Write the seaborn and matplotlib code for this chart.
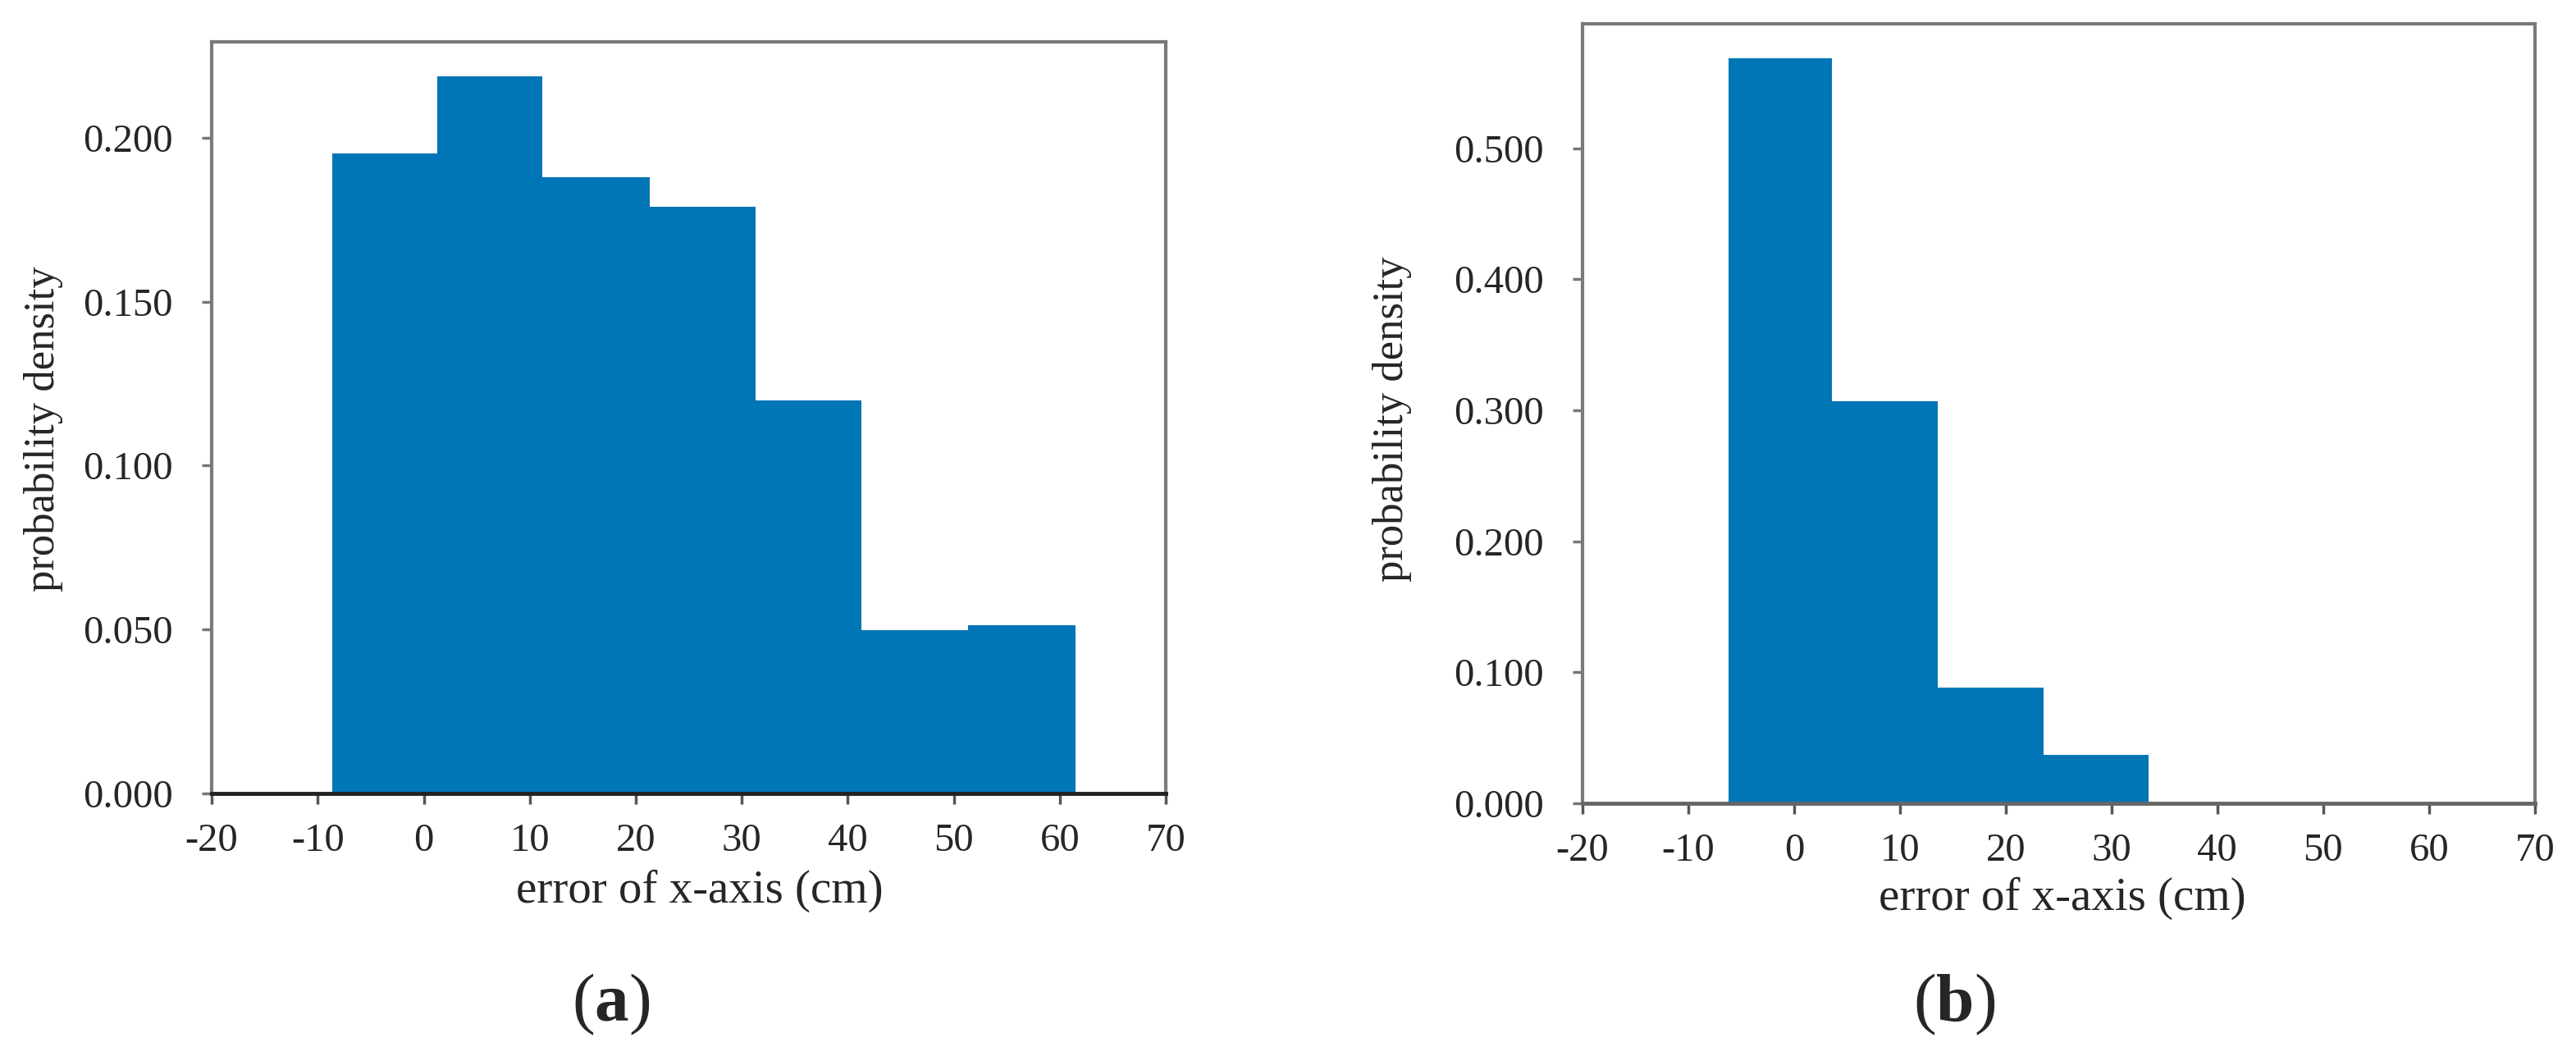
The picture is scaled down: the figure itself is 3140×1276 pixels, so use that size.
import numpy as np
import pandas as pd
import matplotlib
matplotlib.use("Agg")
import matplotlib.pyplot as plt
import seaborn as sns

# bin edges and densities
edges_a = [-8.6, 1.3, 11.2, 21.3, 31.3, 41.3, 51.3, 61.5]
density_a = [0.1953, 0.2187, 0.188, 0.179, 0.120, 0.0497, 0.0512]

edges_b = [-6.2, 3.6, 13.6, 23.6, 33.5]
density_b = [0.5685, 0.307, 0.088, 0.037]

x_ticks = [-20, -10, 0, 10, 20, 30, 40, 50, 60, 70]
y_ticks_a = [0.0, 0.05, 0.10, 0.15, 0.20]
y_ticks_b = [0.0, 0.1, 0.2, 0.3, 0.4, 0.5]

bar_color = "#0076b6"

sns.set_style("white")
plt.rcParams["font.family"] = ["Liberation Serif", "DejaVu Serif"]
plt.rcParams["mathtext.fontset"] = "custom"
plt.rcParams["mathtext.rm"] = "Liberation Serif"
plt.rcParams["mathtext.bf"] = "Liberation Serif:bold"


def make_df(edges, dens):
    mids = [(edges[i] + edges[i + 1]) / 2 for i in range(len(dens))]
    return pd.DataFrame({"err": mids, "dens": dens})


def draw_panel(ax, edges, dens, ylim, yticks, xlab_pos, ylab_pos, bottom_col):
    df = make_df(edges, dens)
    sns.histplot(data=df, x="err", weights="dens", bins=edges, stat="count",
                 color=bar_color, alpha=1, linewidth=0, ax=ax)
    ax.set_xlim(-20, 70)
    ax.set_ylim(0, ylim)
    ax.set_xticks(x_ticks)
    ax.set_xticklabels([str(t) for t in x_ticks])
    ax.set_yticks(yticks)
    ax.set_yticklabels(["%.3f" % t for t in yticks])
    for s in ["top", "right", "left"]:
        ax.spines[s].set_color("#7a7a7a")
        ax.spines[s].set_linewidth(3)
    ax.spines["bottom"].set_color(bottom_col)
    ax.spines["bottom"].set_linewidth(3.5)
    ax.tick_params(axis="x", direction="out", length=9, width=2.5, color="#555555",
                   labelsize=35, pad=17, bottom=True)
    ax.tick_params(axis="y", direction="out", length=9, width=2.5, color="#777777",
                   labelsize=35, pad=25, left=True)
    ax.set_xlabel("error of x-axis (cm)", fontsize=41)
    ax.set_ylabel("probability density", fontsize=38)
    ax.xaxis.set_label_coords(*xlab_pos)
    ax.xaxis.label.set_va("center")
    ax.yaxis.set_label_coords(*ylab_pos)
    ax.yaxis.label.set_va("center")
    ax.grid(False)


fig = plt.figure(figsize=(31.4, 12.76), dpi=100)
ax_a = fig.add_axes([0.0822, 0.2422, 0.3704, 0.7179])
ax_b = fig.add_axes([0.6143, 0.2328, 0.3697, 0.7445])

draw_panel(ax_a, edges_a, density_a, 0.2293, y_ticks_a, (0.511, -0.130), (-0.176, 0.485), "#222222")
draw_panel(ax_b, edges_b, density_b, 0.595, y_ticks_b, (0.504, -0.122), (-0.200, 0.493), "#666666")

fig.text(745 / 3140, 1 - 1224 / 1276, r"($\mathbf{a}$)", fontsize=60, ha="center", va="center")
fig.text(2382 / 3140, 1 - 1224 / 1276, r"($\mathbf{b}$)", fontsize=60, ha="center", va="center")

fig.savefig("out.png", dpi=100, facecolor="white")
